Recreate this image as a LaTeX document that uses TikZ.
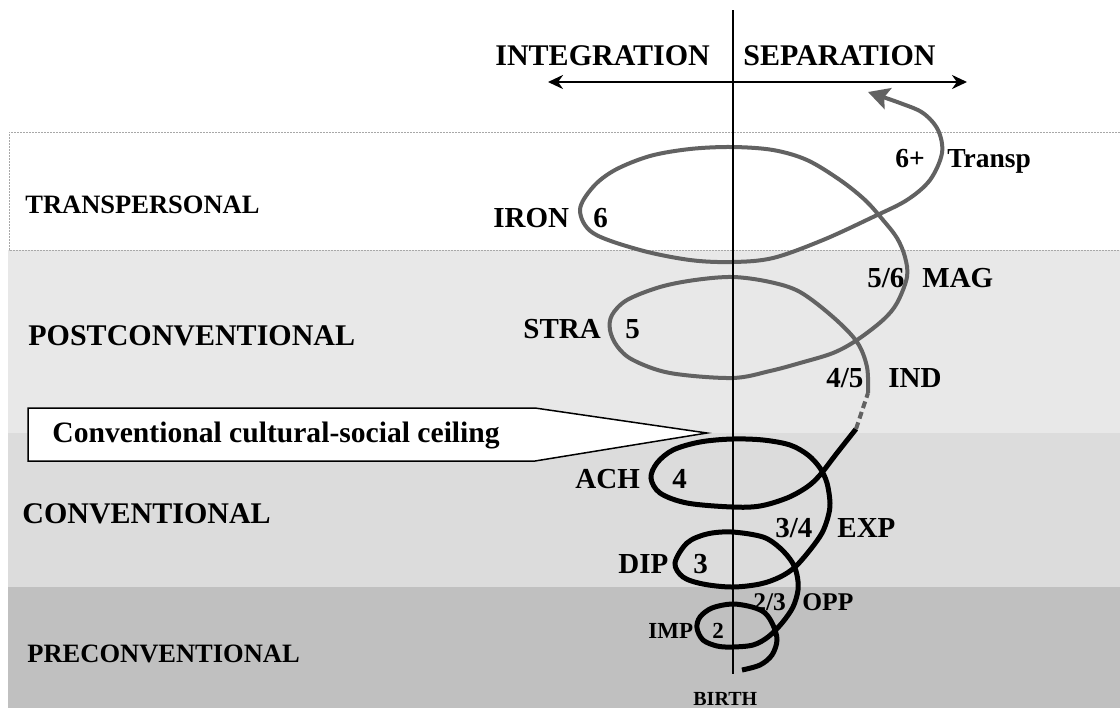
\documentclass[tikz,border=0pt]{standalone}
\usepackage{fontspec}
\setmainfont{Liberation Serif}
\usetikzlibrary{arrows.meta}

\definecolor{postgray}{HTML}{E8E8E8}
\definecolor{convgray}{HTML}{DCDCDC}
\definecolor{pregray}{HTML}{C0C0C0}
\definecolor{spiralgray}{HTML}{626262}
\definecolor{dotgray}{HTML}{A8A8A8}

\newcommand{\lblsize}[1]{\fontsize{#1}{#1}\selectfont\bfseries}

\tikzset{
  lbl/.style={inner sep=0pt, anchor=base west, font=\lblsize{14.5}},
  levelbox/.style={dotgray, line width=0.5pt, dash pattern=on 1pt off 0.5pt},
  blackspiral/.style={line width=2.5pt},
  grayspiral/.style={spiralgray, line width=2pt}
}

\begin{document}
\begin{tikzpicture}[x=0.5pt,y=-0.5pt]
    \useasboundingbox (0,0) rectangle (1120,708);

    % Levels
    \fill[postgray] (8,250) rectangle (1120,433);
    \fill[convgray] (8,433) rectangle (1120,587);
    \fill[pregray] (8,587) rectangle (1120,708);
    \draw[levelbox] (1120,132) -- (9,132) -- (9,250) -- (1120,250);

    \node[lbl, font=\lblsize{13.25}] (transp) at (25,213) {TRANSPERSONAL};
    \node[lbl, font=\lblsize{15}] (postconv) at (28,345) {POSTCONVENTIONAL};
    \node[lbl, font=\lblsize{15}] (conv) at (22,523) {CONVENTIONAL};
    \node[lbl, font=\lblsize{13.25}] (preconv) at (27,662) {PRECONVENTIONAL};

    % Directions
    \node[lbl, font=\lblsize{15}] (integ) at (495,65) {INTEGRATION};
    \node[lbl, font=\lblsize{15}] (separ) at (743,65) {SEPARATION};

    % Ceiling callout
    \coordinate (ceiltip) at (707,433);
    \draw[fill=white, line width=0.75pt] (28,408) -- (535,408) -- (ceiltip) -- (535,461) -- (28,461) -- cycle;
    \node[lbl, font=\lblsize{14.8}] (ceiling) at (52,442) {Conventional cultural-social ceiling};

    % Stages
    \node[lbl, font=\lblsize{13.75}] (sixplus) at (895,167) {6+};
    \node[lbl, font=\lblsize{13.75}] (transpst) at (947,167) {Transp};
    \node[lbl] (iron) at (493,227) {IRON};
    \node[lbl] (six) at (593,227) {6};
    \node[lbl] (fivesix) at (867,287) {5/6};
    \node[lbl] (mag) at (922,287) {MAG};
    \node[lbl] (stra) at (523,338) {STRA};
    \node[lbl] (five) at (625,338) {5};
    \node[lbl] (fourfive) at (826,387) {4/5};
    \node[lbl] (ind) at (888,387) {IND};
    \node[lbl] (ach) at (575,488) {ACH};
    \node[lbl] (four) at (672,488) {4};
    \node[lbl] (threefour) at (775,537) {3/4};
    \node[lbl] (exp) at (837,537) {EXP};
    \node[lbl] (dip) at (618,573) {DIP};
    \node[lbl] (three) at (693,573) {3};
    \node[lbl, font=\lblsize{12.75}] (twothree) at (753,610) {2/3};
    \node[lbl, font=\lblsize{12.75}] (opp) at (802,610) {OPP};
    \node[lbl, font=\lblsize{11.5}] (imp) at (648,638) {IMP};
    \node[lbl, font=\lblsize{11.5}] (two) at (712,638) {2};
    \node[lbl, font=\lblsize{10}] (birth) at (693,705) {BIRTH};

    % Spiral, stages 2 to 4
    \draw[blackspiral] plot[smooth, tension=0.55] coordinates {
        (742,670) (760,665) (772,655) (777,640) (773,625) (765,613) (752,607) (732,604)
        (712,608) (700,617) (697,628) (703,640) (717,646) (732,647)
        (753,645) (768,637) (782,623) (793,607) (798,590) (797,575) (792,562) (780,548) (763,537) (732,532)
        (707,534) (687,543) (675,563) (683,577) (703,584) (732,587)
        (760,584) (780,577) (795,567) (810,550) (822,533) (828,517) (830,503) (827,483) (820,468) (808,455) (790,445) (763,440) (732,439)
        (700,442) (673,450) (657,463) (651,478) (660,493) (687,503) (732,507)
        (760,506) (787,498) (807,487) (820,475) (837,453) (856,429)};
    \draw[grayspiral, dash pattern=on 3.5pt off 2pt] (856,429) -- (868,393);

    % Spiral, stages 5 and 6
    \draw[grayspiral, -{Stealth[length=10.5pt, width=11pt, inset=2pt]}] plot[smooth, tension=0.55] coordinates {
        (868,393) (867,367) (857,342) (833,317) (800,292) (770,282) (733,277)
        (695,280) (660,287) (627,300) (612,315) (610,330) (617,346) (633,360) (670,373) (732,378)
        (770,371) (800,363) (833,353) (857,340) (883,320) (897,303) (907,277) (905,257) (897,238) (883,220) (865,200) (840,180) (807,160) (773,150) (732,147)
        (690,149) (650,156) (615,170) (593,187) (580,210) (593,233) (640,250) (690,260) (732,262)
        (773,258) (823,240) (873,217) (907,200) (930,180) (942,153) (938,130) (923,113) (900,103) (868,92)};

    % Axis
    \coordinate (axtop) at (733,10);
    \coordinate (axbot) at (733,674);
    \draw[line width=1pt] (axtop) -- (axbot);
    \coordinate (intend) at (548,82);
    \coordinate (sepend) at (967,82);
    \draw[line width=1.25pt, {Stealth[length=7.5pt, width=7pt]}-{Stealth[length=7.5pt, width=7pt]}] (intend) -- (sepend);
\end{tikzpicture}
\end{document}
